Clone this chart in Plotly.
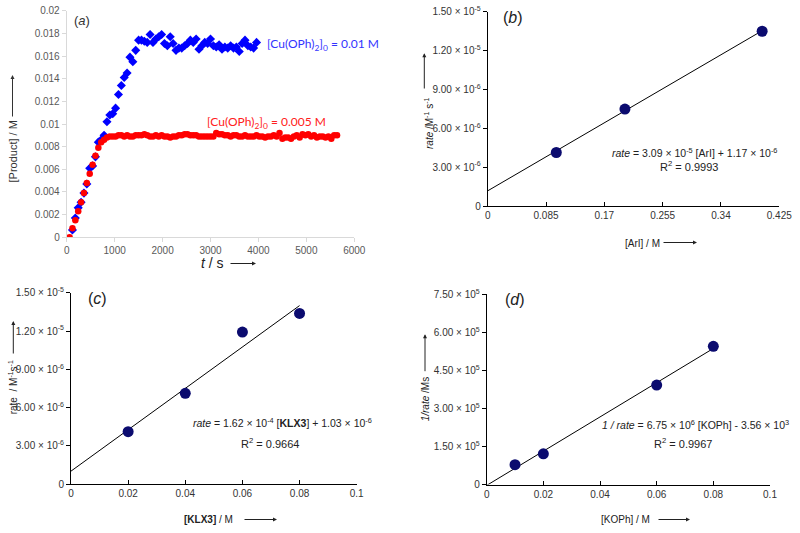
import plotly.graph_objects as go

W, H = 800, 533

# ---------------- Panel (a) data ----------------
blue_t = [120, 180, 240, 300, 360, 420, 480, 540, 600, 660, 720, 780, 840, 900, 960, 1020,
          1080, 1140, 1200, 1260, 1320, 1380, 1440, 1500, 1560, 1620, 1680, 1740, 1800, 1860,
          1920, 1980, 2040, 2100, 2160, 2220, 2280, 2340, 2400, 2460, 2520, 2580, 2640, 2700,
          2760, 2820, 2880, 2940, 3000, 3060, 3120, 3180, 3240, 3300, 3360, 3420, 3480, 3540,
          3600, 3660, 3720, 3780, 3840, 3900, 3960]
blue_p = [0.00064, 0.0017, 0.0026, 0.0031, 0.0039, 0.0047, 0.0061, 0.0063, 0.0071, 0.0084,
          0.0086, 0.0090, 0.0102, 0.0108, 0.0109, 0.0114, 0.0126, 0.0134, 0.0141, 0.0145,
          0.0159, 0.0155, 0.0165, 0.0174, 0.0174, 0.0173, 0.0172, 0.0179, 0.0172, 0.0175,
          0.0177, 0.0179, 0.0171, 0.0169, 0.0177, 0.0171, 0.0165, 0.0167, 0.0167, 0.0169,
          0.0171, 0.0174, 0.0172, 0.0175, 0.0166, 0.0169, 0.0172, 0.0171, 0.0175, 0.0169,
          0.0168, 0.0170, 0.0166, 0.0168, 0.0167, 0.0169, 0.0167, 0.0168, 0.0164, 0.0171,
          0.0174, 0.0169, 0.0168, 0.0167, 0.0172]

red_t = [60, 120, 180, 240, 300, 360, 420, 480, 540, 600, 660, 720, 780, 840, 900, 960,
         1020, 1080, 1140, 1200, 1260, 1320, 1380, 1440, 1500, 1560, 1620, 1680, 1740, 1800,
         1860, 1920, 1980, 2040, 2100, 2160, 2220, 2280, 2340, 2400, 2460, 2520, 2580, 2640,
         2700, 2760, 2820, 2880, 2940, 3000, 3060, 3120, 3180, 3240, 3300, 3360, 3420, 3480,
         3540, 3600, 3660, 3720, 3780, 3840, 3900, 3960, 4020, 4080, 4140, 4200, 4260, 4320,
         4380, 4440, 4500, 4560, 4620, 4680, 4740, 4800, 4860, 4920, 4980, 5040, 5100, 5160,
         5220, 5280, 5340, 5400, 5460, 5520, 5580, 5640]
red_p = [0.0, 0.0008, 0.0015, 0.0023, 0.0031, 0.0039, 0.0048, 0.0056, 0.0064, 0.0072,
         0.0079, 0.0084, 0.0086, 0.0088, 0.0089, 0.0089, 0.0089, 0.0090, 0.0090, 0.0089,
         0.0090, 0.0089, 0.0089, 0.0090, 0.0090, 0.0090, 0.0091, 0.0090, 0.0089, 0.0089,
         0.0090, 0.0089, 0.0090, 0.0089, 0.0089, 0.0088, 0.0089, 0.0089, 0.0090, 0.0090,
         0.0091, 0.0091, 0.0090, 0.0090, 0.0090, 0.0089, 0.0089, 0.0089, 0.0089, 0.0089,
         0.0089, 0.0092, 0.0091, 0.0091, 0.0090, 0.0090, 0.0089, 0.0090, 0.0090, 0.0089,
         0.0089, 0.0090, 0.0089, 0.0089, 0.0089, 0.0090, 0.0089, 0.0089, 0.0088, 0.0089,
         0.0089, 0.0090, 0.0089, 0.0092, 0.0087, 0.0088, 0.0088, 0.0087, 0.0089, 0.0090,
         0.0088, 0.0091, 0.0090, 0.0091, 0.0089, 0.0090, 0.0088, 0.0089, 0.0089, 0.0088,
         0.0089, 0.0087, 0.0090, 0.0090]

a_yticks = [0, 0.002, 0.004, 0.006, 0.008, 0.01, 0.012, 0.014, 0.016, 0.018, 0.02]
a_yticktext = ["0", "0.002", "0.004", "0.006", "0.008", "0.01", "0.012", "0.014", "0.016", "0.018", "0.02"]
a_xticks = [0, 1000, 2000, 3000, 4000, 5000, 6000]

# ---------------- Panel (b) data ----------------
b_x = [0.1, 0.2, 0.4]
b_rate = [4.13e-6, 7.48e-6, 1.349e-5]
b_slope, b_icpt = 3.09e-5, 1.17e-6
b_fit_x = [0.0, 0.4]
b_xticks = [0, 0.085, 0.17, 0.255, 0.34, 0.425]
b_xticktext = ["0", "0.085", "0.17", "0.255", "0.34", "0.425"]
b_yticks = [0, 3e-6, 6e-6, 9e-6, 1.2e-5, 1.5e-5]
b_yticktext = ["0", "3.00 × 10<sup>-6</sup>", "6.00 × 10<sup>-6</sup>", "9.00 × 10<sup>-6</sup>",
               "1.20 × 10<sup>-5</sup>", "1.50 × 10<sup>-5</sup>"]

# ---------------- Panel (c) data ----------------
c_x = [0.02, 0.04, 0.06, 0.08]
c_rate = [4.12e-6, 7.12e-6, 1.192e-5, 1.338e-5]
c_slope, c_icpt = 1.62e-4, 1.03e-6
c_fit_x = [0.0, 0.08]
c_xticks = [0, 0.02, 0.04, 0.06, 0.08, 0.1]
c_xticktext = ["0", "0.02", "0.04", "0.06", "0.08", "0.1"]
c_yticks = b_yticks
c_yticktext = b_yticktext

# ---------------- Panel (d) data ----------------
d_x = [0.01, 0.02, 0.06, 0.08]
d_inv = [7.8e4, 1.21e5, 3.92e5, 5.45e5]
d_slope, d_icpt = 6.75e6, -3.56e3
d_fit_x = [0.0, 0.08]
d_xticks = c_xticks
d_xticktext = c_xticktext
d_yticks = [0, 1.5e5, 3.0e5, 4.5e5, 6.0e5, 7.5e5]
d_yticktext = ["0", "1.50 × 10<sup>5</sup>", "3.00 × 10<sup>5</sup>", "4.50 × 10<sup>5</sup>",
               "6.00 × 10<sup>5</sup>", "7.50 × 10<sup>5</sup>"]


def px(x):
    return x / W


def py(y):
    return 1 - y / H


FONT = "Liberation Sans, Arial, sans-serif"
NAVY = "#0b0b6f"

fig = go.Figure()

# Panel a
fig.add_trace(go.Scatter(x=blue_t, y=blue_p, mode="markers", xaxis="x", yaxis="y",
                         marker=dict(symbol="diamond", size=7, color="#0000ff"), showlegend=False))
fig.add_trace(go.Scatter(x=red_t, y=red_p, mode="markers", xaxis="x", yaxis="y",
                         marker=dict(symbol="circle", size=6.5, color="#ff0000"), showlegend=False))

# Panel b
fig.add_trace(go.Scatter(x=b_fit_x, y=[b_slope * v + b_icpt for v in b_fit_x], mode="lines",
                         xaxis="x2", yaxis="y2", line=dict(color="black", width=1), showlegend=False))
fig.add_trace(go.Scatter(x=b_x, y=b_rate, mode="markers", xaxis="x2", yaxis="y2",
                         marker=dict(size=11, color=NAVY), showlegend=False))
# Panel c
fig.add_trace(go.Scatter(x=c_fit_x, y=[c_slope * v + c_icpt for v in c_fit_x], mode="lines",
                         xaxis="x3", yaxis="y3", line=dict(color="black", width=1), showlegend=False))
fig.add_trace(go.Scatter(x=c_x, y=c_rate, mode="markers", xaxis="x3", yaxis="y3",
                         marker=dict(size=11, color=NAVY), showlegend=False))
# Panel d
fig.add_trace(go.Scatter(x=d_fit_x, y=[d_slope * v + d_icpt for v in d_fit_x], mode="lines",
                         xaxis="x4", yaxis="y4", line=dict(color="black", width=1), showlegend=False))
fig.add_trace(go.Scatter(x=d_x, y=d_inv, mode="markers", xaxis="x4", yaxis="y4",
                         marker=dict(size=11, color=NAVY), showlegend=False))

tickfont_a = dict(family=FONT, size=10, color="#595959")
tickfont = dict(family=FONT, size=10, color="#333333")

common_a = dict(showline=True, linecolor="#d9d9d9", linewidth=1, ticks="outside", ticklen=4,
                tickcolor="#d9d9d9", showgrid=False, zeroline=False, tickfont=tickfont_a,
                automargin=False, ticklabeloverflow="allow")
common = dict(showline=True, linecolor="black", linewidth=1, ticklen=4,
              tickcolor="black", showgrid=False, zeroline=False, tickfont=tickfont,
              automargin=False, ticklabeloverflow="allow")

fig.update_layout(
    width=W, height=H, margin=dict(l=0, r=0, t=0, b=0, autoexpand=False),
    paper_bgcolor="white", plot_bgcolor="white", showlegend=False,
    font=dict(family=FONT, color="#222222"),
    xaxis=dict(domain=[px(66.7), px(354.3)], range=[0, 6000], tickvals=a_xticks, anchor="y", **common_a),
    yaxis=dict(domain=[py(237.3), py(10.7)], range=[0, 0.02], tickvals=a_yticks, ticktext=a_yticktext,
               anchor="x", **common_a),
    xaxis2=dict(domain=[px(487.7), px(779.3)], range=[0, 0.425], tickvals=b_xticks, ticktext=b_xticktext,
                anchor="y2", ticks="inside", **common),
    yaxis2=dict(domain=[py(206), py(11.7)], range=[0, 1.5e-5], tickvals=b_yticks, ticktext=b_yticktext,
                anchor="x2", ticks="outside", **common),
    xaxis3=dict(domain=[px(71), px(356.7)], range=[0, 0.1], tickvals=c_xticks, ticktext=c_xticktext,
                anchor="y3", ticks="inside", **common),
    yaxis3=dict(domain=[py(484.3), py(292.7)], range=[0, 1.5e-5], tickvals=c_yticks, ticktext=c_yticktext,
                anchor="x3", ticks="outside", **common),
    xaxis4=dict(domain=[px(486.7), px(770)], range=[0, 0.1], tickvals=d_xticks, ticktext=d_xticktext,
                anchor="y4", ticks="inside", **common),
    yaxis4=dict(domain=[py(484.5), py(294.3)], range=[0, 7.5e5], tickvals=d_yticks, ticktext=d_yticktext,
                anchor="x4", ticks="outside", **common),
)


def text(x, y, s, size=10, color="#222222", angle=0, family=FONT):
    fig.add_annotation(x=px(x), y=py(y), xref="paper", yref="paper", text=s, showarrow=False,
                       textangle=angle, xanchor="center", yanchor="middle",
                       font=dict(family=family, size=size, color=color))


def arrow(x0, y0, x1, y1, color="#222222"):
    # tail (x0,y0) -> head (x1,y1), pixel coordinates
    fig.add_annotation(x=px(x1), y=py(y1), xref="paper", yref="paper", text="", showarrow=True,
                       ax=x0 - x1, ay=y0 - y1, axref="pixel", ayref="pixel",
                       arrowhead=2, arrowsize=0.8, arrowwidth=1, arrowcolor=color, standoff=0, startstandoff=0)


# Panel a texts
text(82, 20.7, "(<i>a</i>)", size=13, color="#333333")
text(322.8, 45, "[Cu(OPh)<sub>2</sub>]<sub>0</sub> = 0.01 M", size=12, color="#3333ff", family="Lato, sans-serif")
text(266.3, 122.3, "[Cu(OPh)<sub>2</sub>]<sub>0</sub> = 0.005 M", size=12, color="#ff2020", family="Lato, sans-serif")
text(12.5, 152, "[Product] / M", size=11, color="#333333", angle=-90)
arrow(12.5, 118, 12.5, 75, color="#333333")
text(212.5, 262.7, "<i>t</i> / s", size=14, color="#222222")
arrow(229, 263.5, 256, 263.5)

# Panel b texts
text(513, 17, "(<i>b</i>)", size=16)
text(694.5, 152.5, "<i>rate</i> = 3.09 × 10<sup>-5</sup> [ArI] + 1.17 × 10<sup>-6</sup>", size=10.5)
text(689, 165.5, "R<sup>2</sup> = 0.9993", size=11)
text(429, 124, "<i>rate</i> /M<sup>-1</sup> s<sup>-1</sup>", size=10, angle=-90)
arrow(424.3, 90, 424.3, 53.3)
text(642, 243, "[ArI] / M", size=10)
arrow(662, 242.5, 697, 242.5)

# Panel c texts
text(97, 298, "(<i>c</i>)", size=16)
text(282, 422.2, "<i>rate</i> = 1.62 × 10<sup>-4</sup> [<b>KLX3</b>] + 1.03 × 10<sup>-6</sup>", size=10.5)
text(269.7, 442.5, "R<sup>2</sup> = 0.9664", size=11)
text(13.3, 387, "rate  / M<sup>-1</sup>s<sup>-1</sup>", size=10, angle=-90)
arrow(13.3, 355, 13.3, 321)
text(208, 519.3, "<b>[KLX3]</b> / M", size=10)
arrow(243, 519.5, 277, 519.5)

# Panel d texts
text(515, 299.3, "(<i>d</i>)", size=16)
text(695.8, 424.8, "<i>1 / rate</i> = 6.75 × 10<sup>6</sup> [KOPh] - 3.56 × 10<sup>3</sup>", size=10.5)
text(683, 442.5, "R<sup>2</sup> = 0.9967", size=11)
text(425, 399.3, "<i>1/rate</i> /Ms", size=10, angle=-90)
arrow(425, 372.7, 425, 334.3)
text(625.8, 519.3, "[KOPh] / M", size=10)
arrow(657, 519.5, 690, 519.5)

fig.write_html("out.html", config={"displayModeBar": False, "staticPlot": True},
               post_script="document.body.style.margin='0px';")
